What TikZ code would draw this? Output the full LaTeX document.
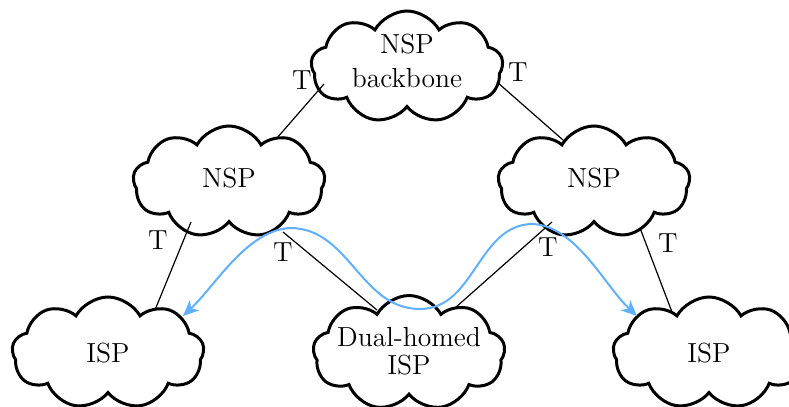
\documentclass[tikz,border=0pt]{standalone}
\usetikzlibrary{shapes.symbols,arrows.meta,calc}
\definecolor{routeblue}{RGB}{97,175,255}
\begin{document}
\begin{tikzpicture}[x=0.5pt,y=-0.5pt,
  cloudnode/.style={cloud, cloud puffs=9, cloud puff arc=122, draw, line width=1.5pt,
    minimum width=96pt, minimum height=56pt, aspect=1.7, inner sep=0pt, align=center,
    font=\fontsize{13.8}{14}\selectfont},
  link/.style={line width=0.6pt},
  tlabel/.style={font=\fontsize{13.8}{15}\selectfont, inner sep=0pt},
  route/.style={draw=routeblue, line width=1pt,
    {Stealth[length=8pt,width=7pt,inset=2.5pt]}-{Stealth[length=8pt,width=7pt,inset=2.5pt]}}]
\clip (0,0) rectangle (789,407);
\node[cloudnode, font=\fontsize{13.8}{17}\selectfont, text depth=6pt, inner sep=-4pt] (bb) at (407,67) {NSP\\backbone};
\node[cloudnode, text depth=4pt] (nspL) at (229,182) {NSP};
\node[cloudnode, text depth=4pt] (nspR) at (594,182) {NSP};
\node[cloudnode] (ispL) at (108,353) {ISP};
\node[cloudnode, text depth=2pt, inner xsep=-9pt, inner ysep=-4pt] (dual) at (409,353) {Dual-homed\\ISP};
\node[cloudnode] (ispR) at (709,353) {ISP};
% connectors
\draw[link] ($(bb)+(-83,17)$) -- ($(nspL)+(48,-44)$);
\draw[link] ($(bb)+(90,15)$) -- ($(nspR)+(-31,-42)$);
\draw[link] ($(nspL)+(-38,40)$) -- ($(ispL)+(47,-43)$);
\draw[link] ($(nspL)+(54,50)$) -- ($(dual)+(-32,-43)$);
\draw[link] ($(nspR)+(-42,40)$) -- ($(dual)+(46,-45)$);
\draw[link] ($(nspR)+(46,46)$) -- ($(ispR)+(-37,-41)$);
% labels
\node[tlabel] (t1) at ($(bb)+(-105,13)$) {T};
\node[tlabel] (t2) at ($(bb)+(111,5)$) {T};
\node[tlabel] (t3) at ($(nspL)+(-71,58)$) {T};
\node[tlabel] (t4) at ($(nspL)+(54,70)$) {T};
\node[tlabel] (t5) at ($(nspR)+(-46,65)$) {T};
\node[tlabel] (t6) at ($(nspR)+(74,61)$) {T};
% route
\coordinate (tipL) at ($(ispL)+(75,-37)$);
\coordinate (peakL) at ($(nspL)+(61,46)$);
\coordinate (dip) at ($(dual)+(11,-44)$);
\coordinate (peakR) at ($(nspR)+(-61,42)$);
\coordinate (tipR) at ($(ispR)+(-72,-37)$);
\draw[route] (tipL) to[out=43,in=183,looseness=0.8] (peakL) to[out=0,in=180] (dip)
  to[out=0,in=180] (peakR) to[out=-3,in=137,looseness=0.8] (tipR);
\end{tikzpicture}
\end{document}
